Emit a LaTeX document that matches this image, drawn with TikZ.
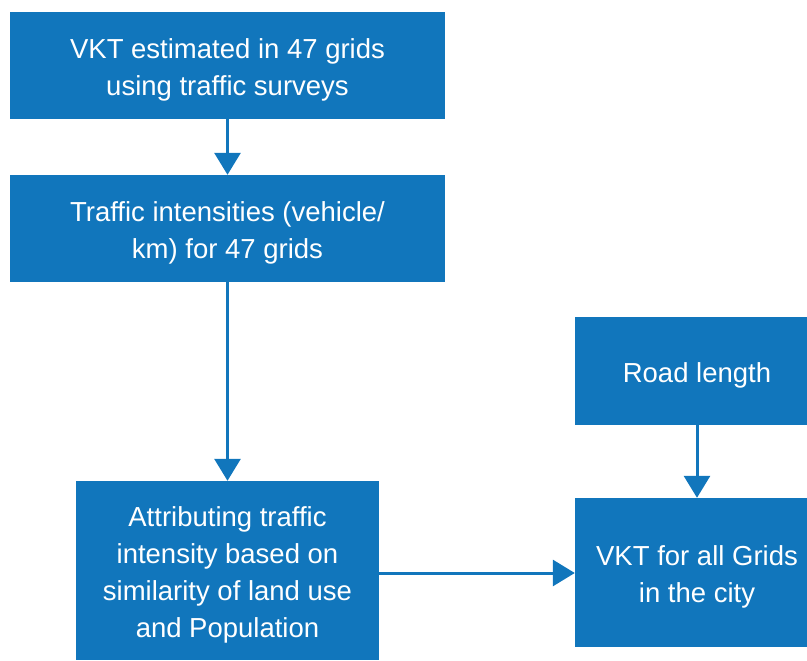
\documentclass[tikz,border=0pt]{standalone}
\usepackage{fontspec}
\setmainfont{Liberation Sans}
\usetikzlibrary{arrows.meta}
\definecolor{boxblue}{HTML}{1176BC}
\begin{document}
\begin{tikzpicture}[x=1pt,y=-1pt,
  box/.style={fill=boxblue,draw=none,inner sep=0pt},
  lbl/.style={text=white,align=center,inner sep=0pt,yshift=-4pt,
    font=\fontsize{27.5}{37}\selectfont},
  conn/.style={draw=boxblue,line width=3pt,-{Triangle[width=26pt,length=22pt]}}]
\useasboundingbox (0,0) rectangle (807,661);
\node[box,minimum width=435pt,minimum height=107pt,label={[lbl]center:{VKT estimated in 47 grids\\using traffic surveys}}] (a) at (227.5,65.5) {};
\node[box,minimum width=435pt,minimum height=107pt,label={[lbl]center:{Traffic intensities (vehicle/\\km) for 47 grids}}] (b) at (227.5,228.5) {};
\node[box,minimum width=303pt,minimum height=179pt,label={[lbl]center:{Attributing traffic\\intensity based on\\similarity of land use\\and Population}}] (c) at (227.5,570.5) {};
\node[box,minimum width=244pt,minimum height=108pt,label={[lbl]center:{Road length}}] (d) at (697,371) {};
\node[box,minimum width=244pt,minimum height=149pt,label={[lbl]center:{VKT for all Grids\\in the city}}] (e) at (697,572.5) {};
\draw[conn] (a.south) -- (b.north);
\draw[conn] (b.south) -- (c.north);
\draw[conn] (d.south) -- (e.north);
\draw[conn] (c.east |- 0,573) -- (e.west |- 0,573);
\end{tikzpicture}
\end{document}
